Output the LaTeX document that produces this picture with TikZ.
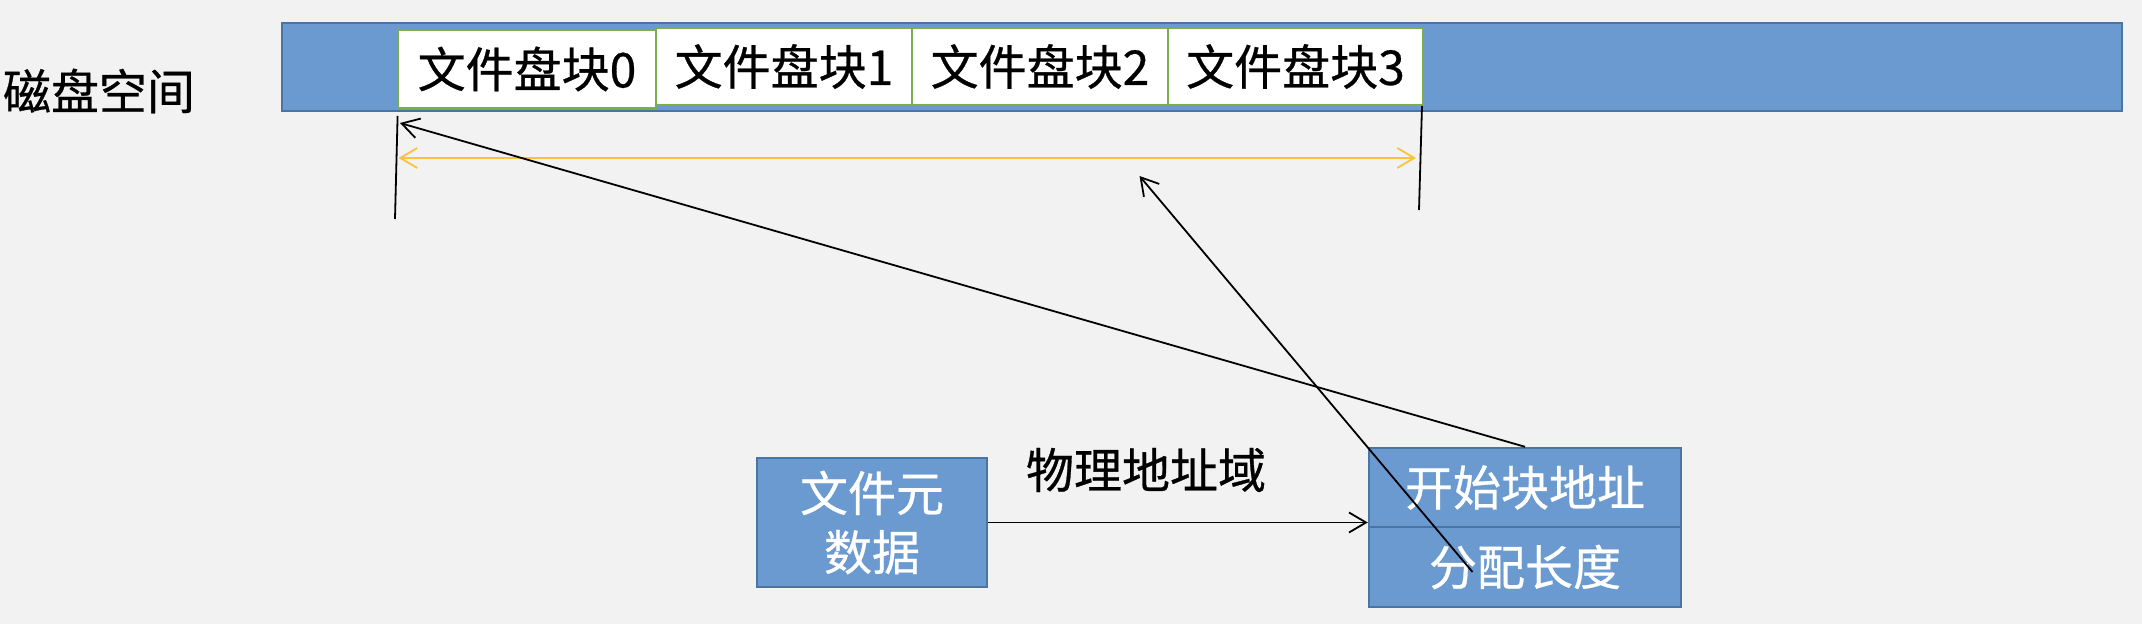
\documentclass[tikz,border=0pt]{standalone}
\usepackage{fontspec}
\setmainfont{Noto Sans CJK SC}[FakeBold=0.6]
\usetikzlibrary{arrows.meta}
\definecolor{bg}{HTML}{F2F2F2}
\definecolor{fillblue}{HTML}{6A9ACF}
\definecolor{edgeblue}{HTML}{4A74A3}
\definecolor{blockgreen}{HTML}{7AAE4D}
\definecolor{arrowyellow}{HTML}{F9C33A}
\begin{document}
\begin{tikzpicture}[x=0.5pt,y=-0.5pt,
  txt/.style={font=\fontsize{24pt}{29.5pt}\selectfont, inner sep=0pt},
  bluebox/.style={txt, draw=edgeblue, fill=fillblue, line width=1.2pt, text=white, align=center},
  blockbox/.style={txt, draw=blockgreen, fill=white, line width=1.2pt, minimum height=38.5pt},
  conn/.style={draw=black, line width=0.9pt, -{Straight Barb[length=8.5pt,width=10pt]}},
  tick/.style={draw=black, line width=0.9pt},
  span/.style={draw=arrowyellow, line width=0.9pt, {Straight Barb[length=8.5pt,width=10pt]}-{Straight Barb[length=8.5pt,width=10pt]}}
]
\fill[bg] (0,0) rectangle (2142,624);
\useasboundingbox (0,0) rectangle (2142,624);

% disk space bar and blocks
\node[bluebox, minimum width=920pt, minimum height=44pt] (bar) at (1202,67) {};
\node[blockbox, minimum width=128.75pt, minimum height=39pt] (b0) at (527,69) {文件盘块0};
\node[blockbox, minimum width=128pt] (b1) at (784,66.5) {文件盘块1};
\node[blockbox, minimum width=128pt] (b2) at (1040,66.5) {文件盘块2};
\node[blockbox, minimum width=127.5pt] (b3) at (1295.5,66.5) {文件盘块3};
\node[txt] (disk) at (99,91) {磁盘空间};

% metadata boxes
\node[bluebox, minimum width=115pt, minimum height=64.5pt] (meta) at (872,522.5) {文件元\\数据};
\node[bluebox, minimum width=156pt, minimum height=39.5pt] (start) at (1525,487.5) {开始块地址};
\node[bluebox, minimum width=156pt, minimum height=40pt] (len) at (1525,567) {分配长度};
\node[txt] (field) at (1146,470) {物理地址域};

% free coordinates
\coordinate (lt) at (397.6,116);
\coordinate (lb) at (395,219);
\coordinate (rt) at (1422,106);
\coordinate (rb) at (1419,210);
\coordinate (yl) at (398.5,158);
\coordinate (yr) at (1416,158);
\coordinate (tip1) at (400,123);
\coordinate (tip2) at (1139.5,176);
\coordinate (src2) at (1472.5,572);

% connectors
\draw[tick] (lt) -- (lb);
\draw[tick] (rt) -- (rb);
\draw[span] (yl) -- (yr);
\draw[conn] (start.north) -- (tip1);
\draw[conn] (src2) -- (tip2);
\draw[conn] (meta.east) -- (meta.east -| start.west);
\end{tikzpicture}
\end{document}
